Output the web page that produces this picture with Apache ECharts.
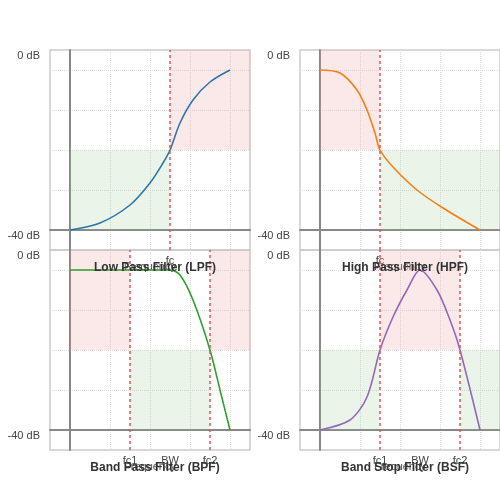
<!DOCTYPE html>
<html>
<head>
<meta charset="utf-8">
<script src="https://cdn.jsdelivr.net/npm/echarts@6/dist/echarts.min.js"></script>
<style>html,body{margin:0;padding:0;background:#fff}#c{width:500px;height:500px}</style>
</head>
<body>
<div id="c"></div>
<script>
// panel titles
var titles = ['Low Pass Filter (LPF)', 'High Pass Filter (HPF)', 'Band Pass Filter (BPF)', 'Band Stop Filter (BSF)'];
var colors = ['#2b76ab', '#f57f17', '#2ca02c', '#9467bd'];

// curve points [frequency, level] (0 = -40 dB, 180 = 0 dB)
var lpfData = [[0,0],[30,7],[60,25],[80,47],[93,67],[100,80],[110,107],[123,130],[140,148],[160,160]];
var hpfData = [[0,160],[20,157],[37,140],[47,120],[55,97],[60,80],[73,63],[97,40],[123,22],[160,0]];
var bpfData = [[0,160],[50,160],[100,160],[110,155],[123,130],[140,80],[150,40],[160,0]];
var bsfData = [[0,0],[30,10],[47,33],[60,80],[73,113],[87,140],[100,160],[117,140],[130,110],[140,80],[160,0]];

// cutoff markers and x tick labels
var cutLines = [[100], [60], [60, 140], [60, 140]];
var tickLabels = [{100: 'fc'}, {60: 'fc'}, {60: 'fc1', 100: 'BW', 140: 'fc2'}, {60: 'fc1', 100: 'BW', 140: 'fc2'}];

// shaded zones [x0, x1, y0, y1, kind]
var zones = [
    [[100, 180, 80, 180, 'r'], [0, 100, 0, 80, 'g']],
    [[0, 60, 80, 180, 'r'], [60, 180, 0, 80, 'g']],
    [[0, 60, 80, 180, 'r'], [140, 180, 80, 180, 'r'], [60, 140, 0, 80, 'g']],
    [[60, 140, 80, 180, 'r'], [0, 60, 0, 80, 'g'], [140, 180, 0, 80, 'g']]
];
var allData = [lpfData, hpfData, bpfData, bsfData];

var pos = [[50, 50], [300, 50], [50, 250], [300, 250]];
var font = 'Liberation Sans, Arial, sans-serif';

var grids = [], xAxes = [], yAxes = [], series = [], titleOpts = [];
for (var i = 0; i < 4; i++) {
    grids.push({left: pos[i][0], top: pos[i][1], width: 200, height: 200, show: true,
        outerBoundsMode: 'none', containLabel: false,
        borderColor: '#cccccc', borderWidth: 1.5, backgroundColor: 'transparent'});
    (function (lab) {
        xAxes.push({type: 'value', gridIndex: i, min: -20, max: 180, interval: 20,
            name: 'Frequency', nameLocation: 'middle', nameGap: 11, nameMoveOverlap: false,
            nameTextStyle: {color: '#555', fontSize: 11, fontFamily: font},
            axisLine: {onZero: true, lineStyle: {color: '#888', width: 2}},
            axisTick: {show: false},
            axisLabel: {margin: 5, fontSize: 11, color: '#444', fontFamily: font,
                showMinLabel: false, showMaxLabel: false,
                formatter: function (v) { return lab[v] || ''; }},
            splitLine: {show: true, lineStyle: {color: ['transparent', '#dddddd'], type: 'dotted', width: 1}}
        });
    })(tickLabels[i]);
    yAxes.push({type: 'value', gridIndex: i, min: -20, max: 180, interval: 20,
        name: i % 2 === 0 ? 'Amplitude (dB)' : '', nameLocation: 'middle', nameGap: 54, nameMoveOverlap: false,
        nameTextStyle: {color: '#555', fontSize: 11, fontFamily: font},
        axisLine: {onZero: true, lineStyle: {color: '#888', width: 2}},
        axisTick: {show: false},
        axisLabel: {margin: 10, fontSize: 11, color: '#444', fontFamily: font, verticalAlign: 'top',
            showMinLabel: false, showMaxLabel: true,
            formatter: function (v) { return v === 0 ? '-40 dB' : (v === 180 ? '0 dB' : ''); }},
        splitLine: {show: true, lineStyle: {color: ['transparent', '#dddddd'], type: 'dotted', width: 1}}
    });
    var areas = zones[i].map(function (z) {
        return [{coord: [z[0], z[2]], itemStyle: {color: z[4] === 'r' ? 'rgba(235,150,150,0.22)' : 'rgba(150,200,140,0.2)'}},
                {coord: [z[1], z[3]]}];
    });
    series.push({type: 'line', xAxisIndex: i, yAxisIndex: i, data: allData[i], smooth: 0.3,
        showSymbol: false, lineStyle: {color: colors[i], width: 1.6},
        markArea: {silent: true, data: areas},
        markLine: {silent: true, symbol: 'none', label: {show: false},
            lineStyle: {color: '#e05555', type: [3, 3], width: 1.5},
            data: cutLines[i].map(function (c) { return {xAxis: c}; })},
        z: 3});
    titleOpts.push({text: titles[i], left: pos[i][0] + 100, top: pos[i][1] + 207, textAlign: 'center',
        textStyle: {fontSize: 12, fontWeight: 'bold', color: '#333', fontFamily: font}, z: 10});
}

var chart = echarts.init(document.getElementById('c'));
chart.setOption({
    animation: false,
    title: titleOpts,
    grid: grids,
    xAxis: xAxes,
    yAxis: yAxes,
    series: series
});
</script>
</body>
</html>
